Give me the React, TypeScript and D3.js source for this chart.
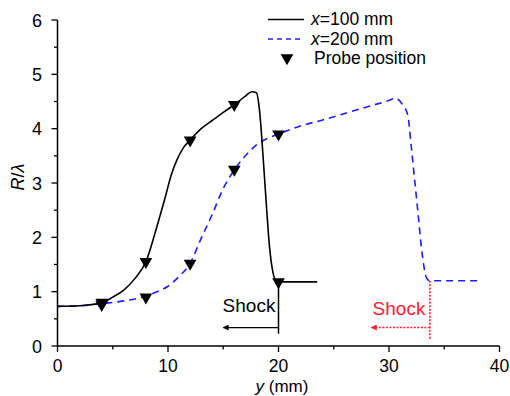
import React from "react";
import * as d3 from "d3";

const xTicks = [0, 10, 20, 30, 40];
const yTicks = [0, 1, 2, 3, 4, 5, 6];
const xMinor = [5, 15, 25, 35];
const yMinor = [0.5, 1.5, 2.5, 3.5, 4.5, 5.5];

const line100: [number, number][] = [
  [0, 0.73], [2, 0.74], [4, 0.8], [5, 0.9], [6, 1.03], [7, 1.24], [8, 1.55], [9, 2.2],
  [9.7, 2.7], [10.3, 3.15], [10.8, 3.42], [11.4, 3.65], [12, 3.79], [13, 4.0], [14, 4.15],
  [15, 4.3], [16, 4.44], [17, 4.6], [17.6, 4.68], [18, 4.66], [18.3, 4.3], [18.6, 3.5],
  [18.9, 2.6], [19.2, 1.8], [19.5, 1.35], [19.8, 1.2], [20.2, 1.18], [23.5, 1.18],
];

const line200: [number, number][] = [
  [0, 0.73], [2, 0.74], [4, 0.78], [6, 0.83], [8, 0.92], [9, 1.0], [10, 1.1], [11, 1.28],
  [12, 1.52], [13, 1.98], [14, 2.42], [15, 2.9], [16, 3.24], [17, 3.5], [18, 3.7], [19, 3.82],
  [20, 3.9], [22, 4.05], [24, 4.16], [26, 4.28], [28, 4.4], [30, 4.52], [30.6, 4.56],
  [31.2, 4.45], [31.7, 4.25], [32.0, 3.7], [32.3, 3.1], [32.6, 2.5], [33.0, 1.7], [33.4, 1.25],
  [33.7, 1.2], [38.4, 1.2],
];

const probes100: [number, number][] = [[4, 0.8], [8, 1.55], [12, 3.79], [16, 4.44], [20, 1.18]];
const probes200: [number, number][] = [[4, 0.76], [8, 0.9], [12, 1.52], [16, 3.25], [20, 3.9]];

const shock100 = { x: 20, yTop: 1.18, yBottom: 0.06, arrowY: 0.34, arrowTo: 15 };
const shock200 = { x: 33.7, yTop: 1.2, yBottom: 0.03, arrowY: 0.34, arrowTo: 28.4 };

const FONT = "Arial, 'Liberation Sans', sans-serif";

export default function App() {
  const x = d3.scaleLinear().domain([0, 40]).range([57.5, 499.5]);
  const y = d3.scaleLinear().domain([0, 6]).range([346, 20]);
  const lineGen = d3
    .line<[number, number]>()
    .x((d) => x(d[0]))
    .y((d) => y(d[1]))
    .curve(d3.curveMonotoneX);
  const tri = d3.symbol().type(d3.symbolTriangle).size(70)();
  const blue = "#1e1eff";
  const red = "#ff2030";

  return (
    <svg width={510} height={396} style={{ position: "absolute", left: 0, top: 0 }} fontFamily={FONT}>
      <defs>
        <marker id="ahb" viewBox="0 0 10 10" refX="9" refY="5" markerWidth="8" markerHeight="6" orient="auto" markerUnits="userSpaceOnUse">
          <path d="M0,0 L10,5 L0,10 z" fill="#000" />
        </marker>
        <marker id="ahr" viewBox="0 0 10 10" refX="9" refY="5" markerWidth="8" markerHeight="6" orient="auto" markerUnits="userSpaceOnUse">
          <path d="M0,0 L10,5 L0,10 z" fill={red} />
        </marker>
      </defs>
      <rect width={510} height={396} fill="#fff" />
      <line x1={x(0)} x2={x(40)} y1={y(0)} y2={y(0)} stroke="#000" strokeWidth={1.5} />
      <line x1={x(0)} x2={x(0)} y1={y(0)} y2={y(6)} stroke="#000" strokeWidth={1.5} />
      {xTicks.map((t) => (
        <g key={"xt" + t}>
          <line x1={x(t)} x2={x(t)} y1={y(0)} y2={y(0) + 6} stroke="#000" strokeWidth={1.3} />
          <text x={x(t)} y={372} textAnchor="middle" fontSize={17.5}>{t}</text>
        </g>
      ))}
      {xMinor.map((t) => (
        <line key={"xm" + t} x1={x(t)} x2={x(t)} y1={y(0)} y2={y(0) + 3.5} stroke="#000" strokeWidth={1.3} />
      ))}
      {yTicks.map((t) => (
        <g key={"yt" + t}>
          <line x1={x(0) - 6} x2={x(0)} y1={y(t)} y2={y(t)} stroke="#000" strokeWidth={1.3} />
          <text x={42} y={y(t) + 6.5} textAnchor="end" fontSize={18}>{t}</text>
        </g>
      ))}
      {yMinor.map((t) => (
        <line key={"ym" + t} x1={x(0) - 3.5} x2={x(0)} y1={y(t)} y2={y(t)} stroke="#000" strokeWidth={1.3} />
      ))}
      <text x={282} y={392} textAnchor="middle" fontSize={17}>
        <tspan fontStyle="italic">y</tspan> (mm)
      </text>
      <text transform="translate(24,177) rotate(-90)" textAnchor="middle" fontSize={18}>
        <tspan fontStyle="italic">R</tspan>/<tspan fontStyle="italic">λ</tspan>
      </text>

      <path d={lineGen(line200) || ""} fill="none" stroke={blue} strokeWidth={1.6} strokeDasharray="7,5" />
      <path d={lineGen(line100) || ""} fill="none" stroke="#000" strokeWidth={1.6} />
      {[...probes100, ...probes200].map((p, i) => (
        <path key={"p" + i} d={tri || ""} transform={`translate(${x(p[0])},${y(p[1])}) rotate(180)`} fill="#000" />
      ))}

      <line x1={x(shock100.x)} x2={x(shock100.x)} y1={y(shock100.yTop)} y2={y(shock100.yBottom) - 9} stroke="#000" strokeWidth={1.5} />
      <line x1={x(shock100.x)} x2={x(shock100.arrowTo)} y1={y(shock100.arrowY)} y2={y(shock100.arrowY)} stroke="#000" strokeWidth={1.3} markerEnd="url(#ahb)" />
      <text x={249} y={312} textAnchor="middle" fontSize={19}>Shock</text>

      <line x1={x(shock200.x)} x2={x(shock200.x)} y1={y(shock200.yTop)} y2={y(shock200.yBottom) - 4} stroke={red} strokeWidth={1.6} strokeDasharray="2,1.5" />
      <line x1={x(shock200.x)} x2={x(shock200.arrowTo)} y1={y(shock200.arrowY)} y2={y(shock200.arrowY)} stroke={red} strokeWidth={1.6} strokeDasharray="2,1.5" markerEnd="url(#ahr)" />
      <text x={399} y={315} textAnchor="middle" fontSize={19} fill={red}>Shock</text>

      <line x1={268} x2={304} y1={19.5} y2={19.5} stroke="#000" strokeWidth={1.5} />
      <text x={311} y={25} fontSize={17.5}><tspan fontStyle="italic">x</tspan>=100 mm</text>
      <line x1={268} x2={304} y1={39} y2={39} stroke={blue} strokeWidth={1.5} strokeDasharray="5,4" />
      <text x={311} y={44.5} fontSize={17.5}><tspan fontStyle="italic">x</tspan>=200 mm</text>
      <path d={tri || ""} transform="translate(287,58) rotate(180)" fill="#000" />
      <text x={314} y={64} fontSize={17.5}>Probe position</text>
    </svg>
  );
}
